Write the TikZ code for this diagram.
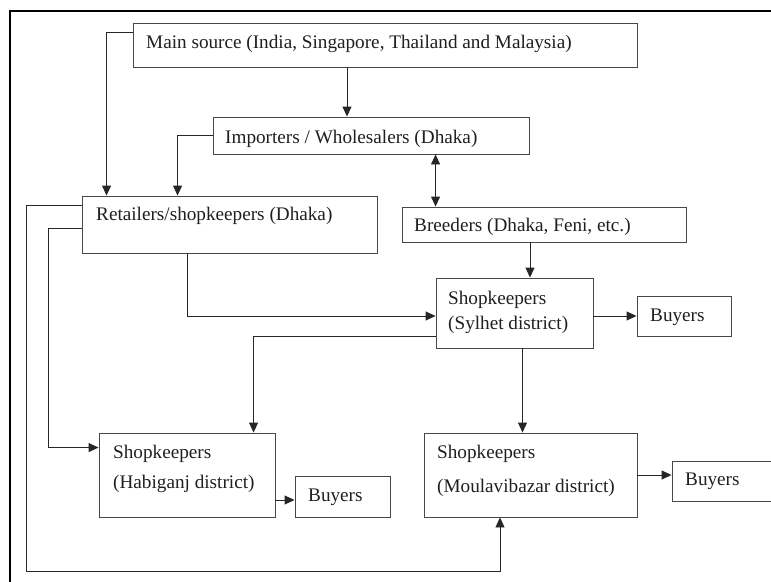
\documentclass[tikz,border=0pt]{standalone}
\usepackage{fontspec}
\setmainfont{Liberation Serif}
\usetikzlibrary{arrows.meta,calc}
\begin{document}
\begin{tikzpicture}[x=1pt,y=-1pt,
  box/.style={draw=black!72,line width=0.9pt,rectangle,inner sep=0pt},
  txt/.style={anchor=base west,inner sep=0pt,text=black!88,font=\fontsize{19.2}{23}\selectfont},
  conn/.style={draw=black!85,line width=0.9pt},
  arr/.style={conn,-{Triangle[length=10pt,width=9pt]}},
  darr/.style={conn,{Triangle[length=10pt,width=9pt]}-{Triangle[length=10pt,width=9pt]}}]
\useasboundingbox (0,0) rectangle (771,581);
% outer frame (partly visible)
\draw[line width=2.2pt,black] (10,585) -- (10,11) -- (775,11);
% boxes
\node[box,minimum width=504pt,minimum height=44pt] (main) at (385,45) {};
\node[box,minimum width=316pt,minimum height=37pt] (imp) at (371,135.5) {};
\node[box,minimum width=295pt,minimum height=57pt] (ret) at (229.5,224.5) {};
\node[box,minimum width=284pt,minimum height=35pt] (bre) at (544,224.5) {};
\node[box,minimum width=157pt,minimum height=70pt] (syl) at (514.5,313) {};
\node[box,minimum width=94pt,minimum height=40pt] (buy1) at (684,316) {};
\node[box,minimum width=176pt,minimum height=84pt] (hab) at (187,475) {};
\node[box,minimum width=95pt,minimum height=41pt] (buy2) at (342.5,496.5) {};
\node[box,minimum width=213pt,minimum height=84pt] (mou) at (530.5,475) {};
\node[box,minimum width=128pt,minimum height=40pt] (buy3) at (736,481) {};
% texts
\node[txt] (tmain) at (146,48) {Main source (India, Singapore, Thailand and Malaysia)};
\node[txt] (timp) at (225,143) {Importers / Wholesalers (Dhaka)};
\node[txt] (tret) at (96,220) {Retailers/shopkeepers (Dhaka)};
\node[txt] (tbre) at (414,231) {Breeders (Dhaka, Feni, etc.)};
\node[txt] (tsyl1) at (448,304) {Shopkeepers};
\node[txt] (tsyl2) at (448,329) {(Sylhet district)};
\node[txt] (tbuy1) at (650,321) {Buyers};
\node[txt] (thab1) at (113,458) {Shopkeepers};
\node[txt] (thab2) at (113,488) {(Habiganj district)};
\node[txt] (tbuy2) at (308,501) {Buyers};
\node[txt] (tmou1) at (437,458) {Shopkeepers};
\node[txt] (tmou2) at (437,492) {(Moulavibazar district)};
\node[txt] (tbuy3) at (685,485) {Buyers};
% corner points of the long return lines
\coordinate (lowleft) at (26,571);
% connectors
\draw[arr] ([yshift=-10pt]main.north west) -| ([xshift=25pt]ret.north west);
\draw[arr] ([xshift=-38pt]main.south) -- ([xshift=-38pt]main.south |- imp.north);
\draw[arr] (imp.west) -| ([xshift=96pt]ret.north west);
\draw[darr] ([xshift=34pt]bre.north west |- imp.south) -- ([xshift=34pt]bre.north west);
\draw[arr] ([xshift=-14pt]bre.south) -- ([xshift=-14pt]bre.south |- syl.north);
\draw[arr] (syl.east |- buy1.west) -- (buy1.west);
\draw[arr] ([xshift=-42.5pt]ret.south) |- ([yshift=-3pt]syl.west);
\draw[arr] ([yshift=-23pt]syl.west) -| ([xshift=155pt]hab.north west);
\draw[arr] ([xshift=8pt]syl.south) -- ([xshift=8pt]syl.south |- mou.north);
\draw[arr] ([yshift=-25pt]hab.east) -- ([yshift=-25pt]hab.east -| buy2.west);
\draw[arr] (mou.east) -- (mou.east -| buy3.west);
\draw[arr] ([yshift=-10pt]ret.north west) -| (lowleft) -| ([xshift=-30.5pt]mou.south);
\draw[arr] ([yshift=-33pt]ret.north west) -- ++(-33,0) |- ([yshift=-15pt]hab.north west);
\end{tikzpicture}
\end{document}
